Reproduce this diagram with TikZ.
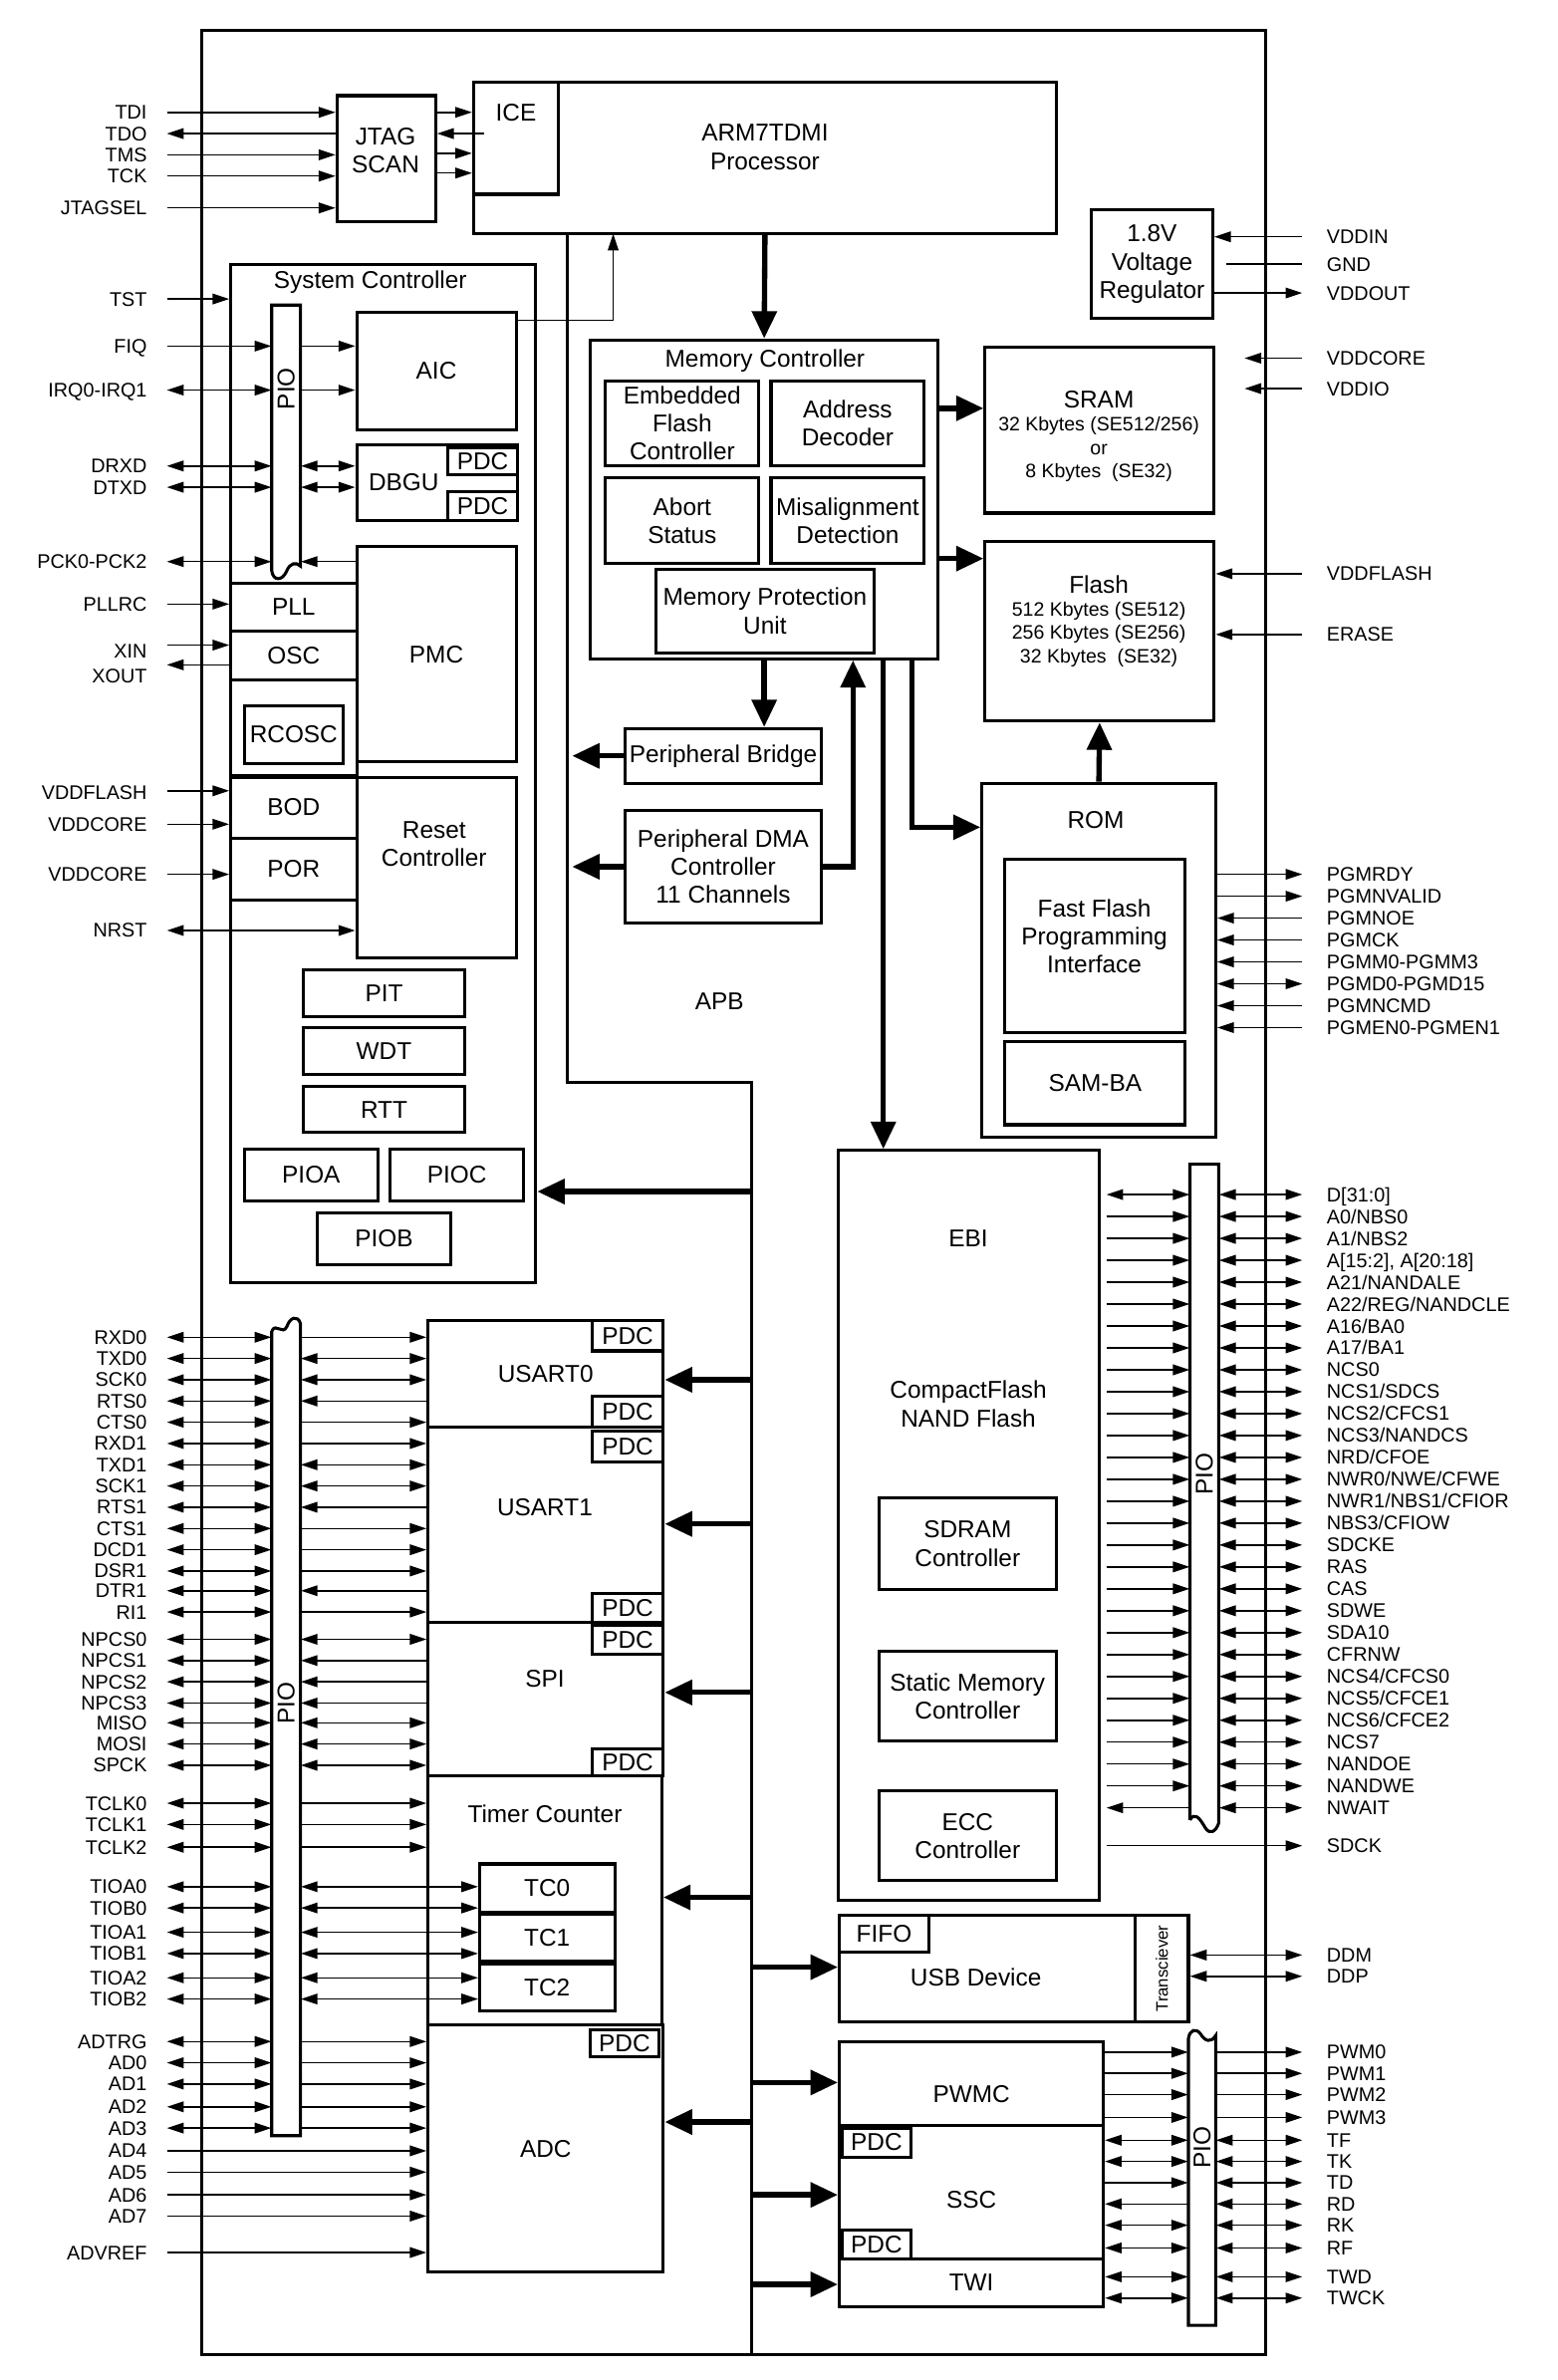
\documentclass[tikz,border=0pt]{standalone}
\usepackage{fontspec}
\setmainfont{Liberation Sans}
\usepackage{tikz}
\usetikzlibrary{arrows.meta,calc}

\newcommand\bfnt{\fontsize{16}{18.5}\selectfont}
\newcommand\mfnt{\fontsize{12.8}{15.5}\selectfont}
\newcommand\sfnt{\fontsize{13}{14}\selectfont}
\newcommand\tfnt{\fontsize{11}{12}\selectfont}

\tikzset{
  blk/.style={draw, line width=2pt, inner sep=0pt, align=center, font=\bfnt},
  txt/.style={inner sep=0pt, align=center, font=\bfnt},
  lab/.style={inner sep=0pt, font=\sfnt},
  sig/.style={line width=1pt},
  sigR/.style={sig, -{Triangle[length=11pt,width=7pt]}},
  sigL/.style={sig, {Triangle[length=11pt,width=7pt]}-},
  sigB/.style={sig, {Triangle[length=11pt,width=7pt]}-{Triangle[length=11pt,width=7pt]}},
  bus/.style={line width=3.5pt, -{Triangle[length=18pt,width=16pt]}},
  wire/.style={line width=2pt},
  pioln/.style={line width=2pt},
  pio/.style={inner sep=0pt},
}

% box from corners: [opts]{name}{x1}{y1}{x2}{y2}{text}
\newcommand\bx[7][]{\node[blk,#1,minimum width={#5-#3},minimum height={#6-#4}] (#2) at ({(#3+#5)/2},{(#4+#6)/2}) {#7};}

\begin{document}
\begin{tikzpicture}[x=1pt,y=-1pt]
    \fill[white] (0,0) rectangle (1026,1568);
    \useasboundingbox (0,0) rectangle (1026,1568);

    % Chip
    \bx[line width=1.8pt]{chip}{133}{20}{834}{1551}{}

    % JTAG, ICE and processor
    \bx{jtag}{222}{63}{287}{146}{}
    \node[txt] (jtagT) at (254,99) {JTAG\\SCAN};
    \bx{arm}{312}{54}{696}{154}{}
    \bx{ice}{312}{54}{368}{128}{}
    \node[txt] (iceT) at (340,74) {ICE};
    \node[txt] (armT) at (504,97) {ARM7TDMI\\Processor};
    \foreach \yy in {74,101,114} \draw[sigR] (jtag.east |- 0,\yy) -- (ice.west |- 0,\yy);
    \draw[sigL] (jtag.east |- 0,88) -- ++(31,0);

    \foreach \lbl/\yy/\da in {TDI/74/sigR, TDO/88/sigL, TMS/102/sigR, TCK/116/sigR, JTAGSEL/137/sigR}{
        \coordinate (j-\lbl) at (110,\yy);
        \node[lab, anchor=base east] (nj-\lbl) at (97,\yy+4.6) {\lbl};
        \draw[\da] (j-\lbl) -- (jtag.west |- j-\lbl);
    }

    % Voltage regulator
    \bx{reg}{719}{138}{799}{210}{1.8V\\Voltage\\Regulator}

    % System Controller
    \bx{sys}{152}{174}{353}{845}{}
    \node[txt] (sysT) at (244,186) {System Controller};
    \bx{aic}{235}{206}{340}{283}{AIC}
    \bx{dbgu}{235}{293}{341}{343}{}
    \node[txt] (dbguT) at (266,318) {DBGU};
    \bx{pdcD1}{295}{295}{341}{313}{PDC}
    \bx{pdcD2}{295}{324}{341}{343}{PDC}
    \bx{pll}{152}{384}{235}{416}{PLL}
    \bx{osc}{152}{416}{235}{448}{OSC}
    \bx{rcc}{152}{448}{235}{511}{}
    \bx{rcosc}{161}{465}{226}{503}{RCOSC}
    \bx{pmc}{235}{360}{340}{502}{PMC}
    \bx{bod}{152}{512}{235}{552}{BOD}
    \bx{por}{152}{552}{235}{593}{POR}
    \bx{rst}{235}{512}{340}{631}{}
    \node[txt] (rstT) at (286,556) {Reset\\Controller};
    \bx{pit}{200}{639}{306}{670}{PIT}
    \bx{wdt}{200}{677}{306}{708}{WDT}
    \bx{rtt}{200}{716}{306}{746}{RTT}
    \bx{pioa}{161}{757}{249}{791}{PIOA}
    \bx{pioc}{257}{757}{345}{791}{PIOC}
    \bx{piob}{209}{799}{297}{833}{PIOB}

    % PIO of the system controller
    \node[pio, minimum width=19, minimum height=176] (pioS) at (188.5,289) {};
    \draw[pioln] (179,376) -- (179,201) -- (198,201) -- (198,373)
        .. controls (195,370) and (191,371) .. (189,376)
        .. controls (186,383) and (180,383) .. (179,376);
    \node[txt, rotate=90] (pioST) at (188.5,256) {PIO};

    \foreach \lbl/\yy/\da/\db/\tgt in {FIQ/228/sigR/sigR/aic, IRQ0-IRQ1/257/sigB/sigR/aic,
        DRXD/307/sigB/sigB/dbgu, DTXD/321/sigB/sigB/dbgu, PCK0-PCK2/370/sigB/sigL/pmc}{
        \coordinate (s-\lbl) at (110,\yy);
        \node[lab, anchor=base east] (ns-\lbl) at (97,\yy+4.6) {\lbl};
        \draw[\da] (s-\lbl) -- (pioS.west |- s-\lbl);
        \draw[\db] (pioS.east |- s-\lbl) -- (\tgt.west |- s-\lbl);
    }
    \foreach \lbl/\yy/\ly/\da/\tgt [count=\i] in {TST/197/197/sigR/sys, PLLRC/398/398/sigR/pll,
        XIN/425/429/sigR/osc, XOUT/438/445/sigL/osc, VDDFLASH/521/522/sigR/bod,
        VDDCORE/543/543/sigR/bod, VDDCORE/576/576/sigR/por, NRST/613/613/sigB/rst}{
        \coordinate (k\i) at (110,\yy);
        \node[lab, anchor=base east] (nk\i) at (97,\ly+4.6) {\lbl};
        \draw[\da] (k\i) -- (\tgt.west |- k\i);
    }
    \coordinate (armIn) at (404,154);
    \draw[sigR] ($(aic.north east)+(0,6)$) -| (armIn);

    % Memory controller
    \bx{mc}{389}{224}{618}{434}{}
    \node[txt] (mcT) at (504,238) {Memory Controller};
    \bx{efc}{399}{251}{500}{307}{Embedded\\Flash\\Controller}
    \bx{adec}{508}{251}{609}{307}{Address\\Decoder}
    \bx{abort}{399}{315}{500}{371}{Abort\\Status}
    \bx{misal}{508}{315}{609}{371}{Misalignment\\Detection}
    \bx{mpu}{432}{375}{576}{430}{Memory Protection\\Unit}

    % Memories
    \bx{sram}{649}{229}{800}{338}{}
    \node[txt] (sramT) at (724,263) {SRAM};
    \node[txt, font=\mfnt] (sramS) at (724,296) {32 Kbytes (SE512/256)\\or\\8 Kbytes\ \ (SE32)};
    \bx{flash}{649}{357}{800}{475}{}
    \node[txt] (flashT) at (724,385) {Flash};
    \node[txt, font=\mfnt] (flashS) at (724,418) {512 Kbytes (SE512)\\256 Kbytes (SE256)\\32 Kbytes\ \ (SE32)};
    \bx{rom}{647}{516}{801}{749}{}
    \node[txt] (romT) at (722,540) {ROM};
    \bx{ffpi}{662}{566}{781}{680}{}
    \node[txt] (ffpiT) at (721,617) {Fast Flash\\Programming\\Interface};
    \bx{samba}{662}{686}{781}{741}{SAM-BA}

    % Bridge and DMA
    \bx{pb}{412}{480}{541}{516}{Peripheral Bridge}
    \bx{pdma}{412}{534}{541}{608}{Peripheral DMA\\Controller\\11 Channels}
    \node[txt] (apbT) at (474,660) {APB};

    % EBI
    \bx{ebi}{552}{758}{724}{1252}{}
    \node[txt] (ebiT) at (638,816) {EBI};
    \node[txt] (cfT) at (638,925) {CompactFlash\\NAND Flash};
    \bx{sdram}{579}{987}{696}{1047}{SDRAM\\Controller}
    \bx{smc}{579}{1088}{696}{1147}{Static Memory\\Controller}
    \bx{ecc}{579}{1180}{696}{1239}{ECC\\Controller}

    % Buses
    \draw[bus] (arm.south) -- (mc.north);
    \draw[bus] (mc.east |- 0,269) -- (sram.west |- 0,269);
    \draw[bus] (mc.east |- 0,368) -- (flash.west |- 0,368);
    \draw[bus] (mc.south) -- (pb.north -| mc.south);
    \draw[bus] (pb.west) -- ++(-34,0);
    \draw[bus] (pdma.west) -- ++(-34,0);
    \draw[bus] (pdma.east) -| ($(mc.south west)+(174,0)$);
    \draw[bus] ($(mc.south west)+(194,0)$) coordinate (m1) -- (m1 |- ebi.north);
    \draw[bus] ($(mc.south west)+(213,0)$) |- ($(rom.north west)+(0,30)$);
    \draw[bus] (rom.north) -- (flash.south);

    % APB
    \coordinate (apbTop) at (374,154);
    \coordinate (apbBend) at (374,713);
    \coordinate (apbx) at (495,713);
    \draw[wire] (apbTop) -- (apbBend) -- (apbx) -- (apbx |- chip.south);

    % Power pins
    \foreach \lbl/\yy/\da/\src [count=\i] in {VDDIN/156/sigL/reg, VDDOUT/193/sigR/reg,
        VDDFLASH/378/sigL/flash, ERASE/418/sigL/flash}{
        \coordinate (r\i) at (858,\yy);
        \node[lab, anchor=base west] (nr\i) at (874,\yy+4.6) {\lbl};
        \draw[\da] (\src.east |- r\i) -- (r\i);
    }
    \coordinate (gndS) at (808,174);
    \coordinate (gndE) at (858,174);
    \node[lab, anchor=base west] (ngnd) at (874,178.6) {GND};
    \draw[sig] (gndS) -- (gndE);
    \foreach \lbl/\yy [count=\i] in {VDDCORE/236, VDDIO/256}{
        \coordinate (v\i) at (858,\yy);
        \coordinate (vt\i) at (820,\yy);
        \node[lab, anchor=base west] (nv\i) at (874,\yy+4.6) {\lbl};
        \draw[sigL] (vt\i) -- (v\i);
    }

    % Fast flash programming pins
    \foreach \lbl/\da [count=\i from 0] in {PGMRDY/sigR, PGMNVALID/sigR, PGMNOE/sigL, PGMCK/sigL,
        PGMM0-PGMM3/sigL, PGMD0-PGMD15/sigB, PGMNCMD/sigL, PGMEN0-PGMEN1/sigL}{
        \pgfmathsetmacro\yy{576+14.43*\i}
        \coordinate (g\i) at (858,\yy);
        \node[lab, anchor=base west] (ng\i) at (874,\yy+4.6) {\lbl};
        \draw[\da] (rom.east |- g\i) -- (g\i);
    }

    % EBI pins
    \node[pio, minimum width=19, minimum height=438] (pioE) at (793.5,986) {};
    \draw[pioln] (784,1199) -- (784,767) -- (803,767) -- (803,1201)
        .. controls (801,1207) and (797,1209) .. (794,1204)
        .. controls (790,1197) and (787,1194) .. (784,1199);
    \node[txt, rotate=90] (pioET) at (793.5,971) {PIO};

    \foreach \lbl [count=\i from 0] in {D[31:0], A0/NBS0, A1/NBS2, {A[15:2], A[20:18]}, A21/NANDALE,
        A22/REG/NANDCLE, A16/BA0, A17/BA1, NCS0, NCS1/SDCS, NCS2/CFCS1, NCS3/NANDCS, NRD/CFOE,
        NWR0/NWE/CFWE, NWR1/NBS1/CFIOR, NBS3/CFIOW, SDCKE, RAS, CAS, SDWE, SDA10, CFRNW,
        NCS4/CFCS0, NCS5/CFCE1, NCS6/CFCE2, NCS7, NANDOE, NANDWE, NWAIT}{
        \pgfmathsetmacro\yy{787+14.43*\i}
        \coordinate (e\i) at (858,\yy);
        \node[lab, anchor=base west] (ne\i) at (874,\yy+4.6) {\lbl};
        \draw[sigB] (pioE.east |- e\i) -- (e\i);
    }
    \draw[sigB] ($(ebi.east |- e0)+(4,0)$) -- (pioE.west |- e0);
    \foreach \i in {1,...,27} \draw[sigR] ($(ebi.east |- e\i)+(4,0)$) -- (pioE.west |- e\i);
    \draw[sigL] ($(ebi.east |- e28)+(4,0)$) -- (pioE.west |- e28);
    \coordinate (sdck) at (858,1216);
    \node[lab, anchor=base west] (nsdck) at (874,1220.6) {SDCK};
    \draw[sigR] ($(ebi.east |- sdck)+(4,0)$) -- (sdck);

    % USART, SPI, Timer Counter, ADC
    \bx{usart0}{282}{870}{437}{940}{USART0}
    \bx{pdcU0a}{390}{870}{437}{890}{PDC}
    \bx{pdcU0b}{390}{920}{437}{940}{PDC}
    \bx{usart1}{282}{940}{437}{1069}{}
    \node[txt] (usart1T) at (359,993) {USART1};
    \bx{pdcU1a}{390}{943}{437}{963}{PDC}
    \bx{pdcU1b}{390}{1050}{437}{1069}{PDC}
    \bx{spi}{282}{1069}{437}{1170}{}
    \node[txt] (spiT) at (359,1106) {SPI};
    \bx{pdcSa}{390}{1071}{437}{1090}{PDC}
    \bx{pdcSb}{390}{1152}{437}{1170}{PDC}
    \bx{tc}{282}{1170}{436}{1334}{}
    \node[txt] (tcT) at (359,1195) {Timer Counter};
    \bx{tc0}{316}{1228}{405}{1260}{TC0}
    \bx{tc1}{316}{1261}{405}{1292}{TC1}
    \bx{tc2}{316}{1294}{405}{1325}{TC2}
    \bx{adc}{282}{1334}{437}{1497}{ADC}
    \bx{pdcA}{389}{1337}{434}{1355}{PDC}

    \node[pio, minimum width=19, minimum height=538] (pioL) at (188.5,1138) {};
    \draw[pioln] (179,877) -- (179,1407) -- (198,1407) -- (198,872)
        .. controls (196,866) and (191,868) .. (189,874)
        .. controls (186,880) and (182,871) .. (179,877);
    \node[txt, rotate=90] (pioLT) at (188.5,1122) {PIO};

    \foreach \lbl/\yy/\db/\tgt in {
        RXD0/881/sigR/usart0, TXD0/895/sigB/usart0, SCK0/909/sigB/usart0, RTS0/923/sigL/usart0, CTS0/937/sigR/usart0,
        RXD1/951/sigR/usart1, TXD1/965/sigB/usart1, SCK1/979/sigB/usart1, RTS1/993/sigL/usart1, CTS1/1007/sigR/usart1,
        DCD1/1021/sigR/usart1, DSR1/1035/sigR/usart1, DTR1/1048/sigL/usart1, RI1/1062/sigR/usart1,
        NPCS0/1080/sigB/spi, NPCS1/1094/sigL/spi, NPCS2/1108/sigL/spi, NPCS3/1122/sigL/spi,
        MISO/1135/sigB/spi, MOSI/1149/sigB/spi, SPCK/1163/sigB/spi,
        TCLK0/1188/sigR/tc, TCLK1/1202/sigR/tc, TCLK2/1217/sigR/tc,
        TIOA0/1243/sigB/tc0, TIOB0/1257/sigB/tc0, TIOA1/1273/sigB/tc1, TIOB1/1287/sigB/tc1,
        TIOA2/1303/sigB/tc2, TIOB2/1317/sigB/tc2,
        ADTRG/1345/sigR/adc, AD0/1359/sigR/adc, AD1/1373/sigR/adc, AD2/1388/sigR/adc, AD3/1402/sigR/adc}{
        \coordinate (u-\lbl) at (110,\yy);
        \node[lab, anchor=base east] (nu-\lbl) at (97,\yy+4.6) {\lbl};
        \draw[sigB] (u-\lbl) -- (pioL.west |- u-\lbl);
        \draw[\db] (pioL.east |- u-\lbl) -- (\tgt.west |- u-\lbl);
    }
    \foreach \lbl/\yy in {AD4/1417, AD5/1431, AD6/1446, AD7/1460, ADVREF/1484}{
        \coordinate (u-\lbl) at (110,\yy);
        \node[lab, anchor=base east] (nu-\lbl) at (97,\yy+4.6) {\lbl};
        \draw[sigR] (u-\lbl) -- (adc.west |- u-\lbl);
    }

    % USB device
    \bx{usb}{553}{1262}{783}{1332}{}
    \bx{fifo}{553}{1262}{612}{1286}{FIFO}
    \bx{trx}{748}{1262}{783}{1332}{}
    \node[txt, font=\tfnt, rotate=90] (trxT) at (765.5,1297) {Transciever};
    \node[txt] (usbT) at (643,1303) {USB Device};
    \foreach \lbl/\yy in {DDM/1288, DDP/1302}{
        \coordinate (d-\lbl) at (858,\yy);
        \node[lab, anchor=base west] (nd-\lbl) at (874,\yy+4.6) {\lbl};
        \draw[sigB] (usb.east |- d-\lbl) -- (d-\lbl);
    }

    % PWMC, SSC, TWI
    \bx{pwmc}{553}{1345}{727}{1400}{}
    \node[txt] (pwmcT) at (640,1380) {PWMC};
    \bx{ssc}{553}{1400}{727}{1488}{}
    \node[txt] (sscT) at (640,1449) {SSC};
    \bx{pdcP1}{555}{1402}{600}{1421}{PDC}
    \bx{pdcP2}{555}{1469}{600}{1488}{PDC}
    \bx{twi}{553}{1488}{727}{1520}{TWI}

    \node[pio, minimum width=18, minimum height=193] (pioP) at (792,1435.5) {};
    \draw[pioln] (783,1343) -- (783,1532) -- (801,1532) -- (801,1341)
        .. controls (798,1346) and (794,1345) .. (791,1340)
        .. controls (788,1336) and (784,1337) .. (783,1343);
    \node[txt, rotate=90] (pioPT) at (792,1415) {PIO};

    \foreach \lbl/\yy/\da/\db/\src in {PWM0/1352/sigR/sigR/pwmc, PWM1/1366/sigR/sigR/pwmc,
        PWM2/1380/sigR/sigR/pwmc, PWM3/1395/sigR/sigR/pwmc, TF/1410/sigB/sigB/ssc, TK/1424/sigB/sigB/ssc,
        TD/1438/sigR/sigB/ssc, RD/1452/sigL/sigB/ssc, RK/1466/sigB/sigB/ssc, RF/1481/sigB/sigB/ssc,
        TWD/1500/sigB/sigB/twi, TWCK/1514/sigB/sigB/twi}{
        \coordinate (p-\lbl) at (858,\yy);
        \node[lab, anchor=base west] (np-\lbl) at (874,\yy+4.6) {\lbl};
        \draw[\da] (\src.east |- p-\lbl) -- (pioP.west |- p-\lbl);
        \draw[\db] (pioP.east |- p-\lbl) -- (p-\lbl);
    }

    % APB branches
    \foreach \tgt/\yy in {sys/785, usart0/909, usart1/1004, spi/1115, tc/1250, adc/1398}
        \draw[bus] (apbx |- 0,\yy) -- (\tgt.east |- 0,\yy);
    \foreach \tgt/\yy in {usb/1296, pwmc/1372, ssc/1446, twi/1505}
        \draw[bus] (apbx |- 0,\yy) -- (\tgt.west |- 0,\yy);
\end{tikzpicture}
\end{document}
